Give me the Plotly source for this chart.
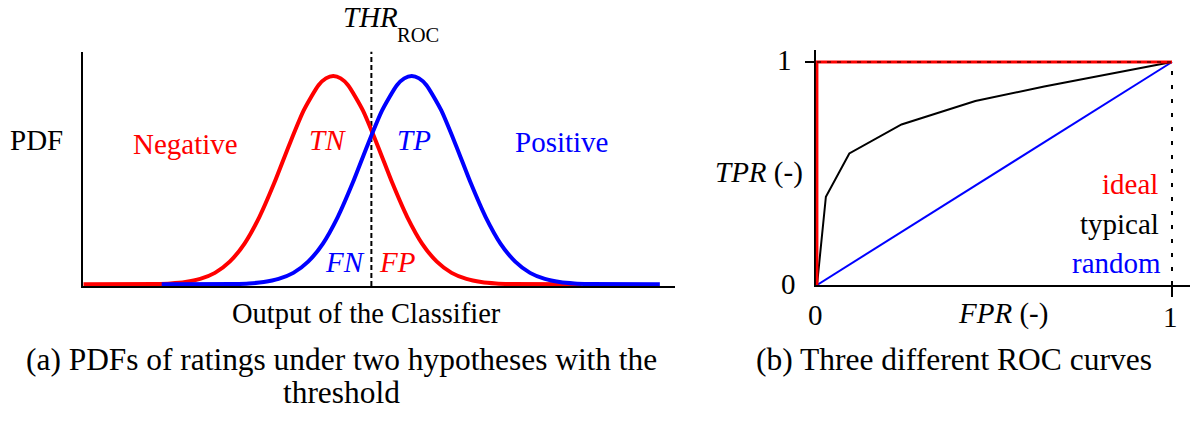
import plotly.graph_objects as go

# ---------------- data ----------------
# (a) two class-conditional PDFs over the classifier output (peak-normalised)
neg_x = [0.0, 1.96, 2.36, 2.76, 3.16, 3.56, 3.96, 4.36, 4.76, 5.16, 5.56, 5.96, 6.36, 6.56, 6.76,
         6.96, 7.16, 7.56, 7.96, 8.36, 8.76, 9.16, 9.56, 9.96, 10.36, 10.76, 11.16, 11.56, 13.47]
neg_pdf = [0.0, 0.0015, 0.004, 0.011, 0.026, 0.055, 0.109, 0.196, 0.323, 0.485, 0.666, 0.835, 0.956,
           0.989, 1.0, 0.989,
           0.956, 0.835, 0.666, 0.485, 0.323, 0.196, 0.109, 0.055, 0.026, 0.011, 0.004, 0.0015, 0.0]
pos_x = [2.12, 4.08, 4.48, 4.88, 5.28, 5.68, 6.08, 6.48, 6.88, 7.28, 7.68, 8.08, 8.48, 8.68, 8.88,
         9.08, 9.28, 9.68, 10.08, 10.48, 10.88, 11.28, 11.68, 12.08, 12.48, 12.88, 13.28, 13.68, 15.59]
pos_pdf = [0.0, 0.0015, 0.004, 0.011, 0.026, 0.055, 0.109, 0.196, 0.323, 0.485, 0.666, 0.835, 0.956,
           0.989, 1.0, 0.989,
           0.956, 0.835, 0.666, 0.485, 0.323, 0.196, 0.109, 0.055, 0.026, 0.011, 0.004, 0.0015, 0.0]
threshold = 7.79

# (b) ROC curves
ideal_fpr = [0.0, 0.0, 1.0]
ideal_tpr = [0.0, 1.0, 1.0]
typical_fpr = [0.0, 0.025, 0.091, 0.238, 0.446, 0.64, 1.0]
typical_tpr = [0.0, 0.396, 0.590, 0.720, 0.825, 0.89, 1.0]
random_fpr = [0.0, 1.0]
random_tpr = [0.0, 1.0]
rate_max = 1.0

RED = "#ff0000"
BLUE = "#0000ff"
FONT = "Liberation Serif, Times New Roman, Times, DejaVu Serif, serif"
W, H = 1196, 421


def px(x):
    return x / W


def py(y):
    return 1 - y / H


fig = go.Figure()

# ---- panel (a) ----
fig.add_trace(go.Scatter(x=neg_x, y=neg_pdf, mode="lines", xaxis="x", yaxis="y",
                         line=dict(color=RED, width=4, shape="spline", smoothing=0.6)))
fig.add_trace(go.Scatter(x=pos_x, y=pos_pdf, mode="lines", xaxis="x", yaxis="y",
                         line=dict(color=BLUE, width=4, shape="spline", smoothing=0.6)))
fig.add_shape(type="line", xref="x", yref="y domain", x0=threshold, x1=threshold, y0=0, y1=1,
              line=dict(color="black", width=2, dash="5px,3px"), layer="below")

# ---- panel (b) ----
fig.add_trace(go.Scatter(x=random_fpr, y=random_tpr, mode="lines", xaxis="x2", yaxis="y2",
                         line=dict(color=BLUE, width=2)))
fig.add_trace(go.Scatter(x=typical_fpr, y=typical_tpr, mode="lines", xaxis="x2", yaxis="y2",
                         line=dict(color="black", width=2)))
fig.add_trace(go.Scatter(x=ideal_fpr, y=ideal_tpr, mode="lines", xaxis="x2", yaxis="y2",
                         line=dict(color=RED, width=2.8)))
fig.add_shape(type="line", xref="x2", yref="y2", x0=0, x1=rate_max, y0=rate_max, y1=rate_max,
              line=dict(color="black", width=1, dash="4px,6px"))
fig.add_shape(type="line", xref="x2", yref="y2", x0=rate_max, x1=rate_max, y0=0, y1=rate_max,
              line=dict(color="black", width=2, dash="4px,10px"), layer="below")

axis_common = dict(showgrid=False, zeroline=False, showline=True, linecolor="black",
                   linewidth=2, mirror=False, fixedrange=True)

fig.update_layout(
    width=W, height=H,
    margin=dict(l=0, r=0, t=0, b=0),
    paper_bgcolor="white", plot_bgcolor="white",
    showlegend=False,
    font=dict(family=FONT, color="black", size=29),
    xaxis=dict(domain=[px(83.3), px(675)], range=[0, 16], showticklabels=False, ticks="",
               anchor="y", **axis_common),
    yaxis=dict(domain=[py(286), py(51.7)], range=[-0.008, 1.117], showticklabels=False,
               ticks="", anchor="x", **axis_common),
    xaxis2=dict(domain=[px(815.6), px(1190)], range=[-0.004, 1.0507], anchor="y2",
                tickvals=[rate_max], ticks="outside", ticklen=10, tickwidth=2,
                tickcolor="black", showticklabels=False, **axis_common),
    yaxis2=dict(domain=[py(285), py(50)], range=[0, 1.0538], anchor="x2",
                tickvals=[rate_max], ticks="outside", ticklen=9, tickwidth=2,
                tickcolor="black", showticklabels=False, layer="below traces",
                **axis_common),
)


def label(text, x, y, size=29, color="black", xanchor="center"):
    fig.add_annotation(text=text, x=px(x), y=py(y), xref="paper", yref="paper",
                       xanchor=xanchor, yanchor="middle", showarrow=False,
                       font=dict(family=FONT, size=size, color=color))


# panel (a) texts
label("<i>THR</i>", 341, 17, size=29, xanchor="left")
label("ROC", 395, 35, size=20.5, xanchor="left")
label("PDF", 36, 140)
label("Negative", 185, 143.5, color=RED)
label("<i>TN</i>", 327.5, 139.5, color=RED)
label("<i>TP</i>", 413.5, 139.5, color=BLUE)
label("Positive", 561, 142, color=BLUE)
label("<i>FN</i>", 344.7, 261.7, color=BLUE)
label("<i>FP</i>", 397.5, 261.7, color=RED)
label("Output of the Classifier", 366, 313, size=28.5)
label("(a) PDFs of ratings under two hypotheses with the", 341, 359.5, size=31.4)
label("threshold", 342, 392, size=31.4)

# panel (b) texts
label("1", 785, 60)
label("0", 788, 284)
label("<i>TPR</i> (-)", 805, 172, xanchor="right")
label("0", 815, 315)
label("1", 1170, 317)
label("<i>FPR</i> (-)", 1003, 313)
label("ideal", 1160, 184, color=RED, xanchor="right")
label("typical", 1161, 224, xanchor="right")
label("random", 1163, 263, color=BLUE, xanchor="right")
label("(b) Three different ROC curves", 954, 359.5, size=31.5)

fig.write_html("out.html")
